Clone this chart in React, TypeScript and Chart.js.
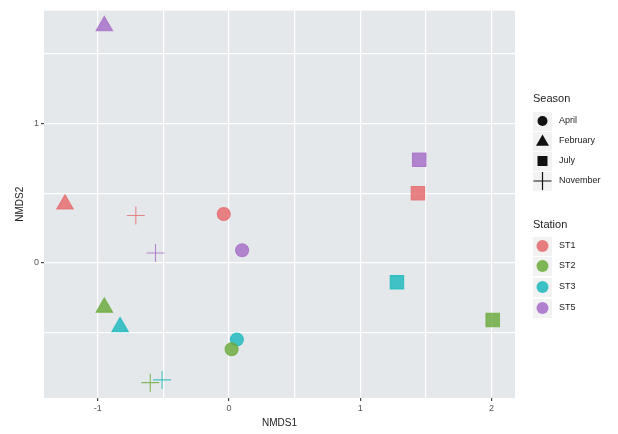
import React, { useEffect, useRef } from "react";
import { Chart, registerables } from "chart.js";

Chart.register(...registerables);

const seasons = ["April", "February", "July", "November"];
const seasonStyles = ["circle", "triangle", "rect", "cross"];
const seasonRadius = [6.5, 9.5, 9.5, 9];
const stations = ["ST1", "ST2", "ST3", "ST5"];
const stationColors = ["#e5696a", "#6aaa3a", "#1bb8bc", "#a56cc8"];

// values ordered as seasons: April, February, July, November
const nmds1ST1 = [-0.04, -1.25, 1.44, -0.71];
const nmds2ST1 = [0.35, 0.42, 0.5, 0.34];
const nmds1ST2 = [0.02, -0.95, 2.01, -0.6];
const nmds2ST2 = [-0.62, -0.32, -0.41, -0.86];
const nmds1ST3 = [0.06, -0.83, 1.28, -0.51];
const nmds2ST3 = [-0.55, -0.46, -0.14, -0.84];
const nmds1ST5 = [0.1, -0.95, 1.45, -0.56];
const nmds2ST5 = [0.09, 1.7, 0.74, 0.07];

const xTicks = [-1, -0.5, 0, 0.5, 1, 1.5, 2];
const yTicks = [-0.5, 0, 0.5, 1, 1.5];
const xTitle = "NMDS1";
const yTitle = "NMDS2";
const seasonTitle = "Season";
const stationTitle = "Station";

const FONT = "'Liberation Sans', Arial, sans-serif";

function alpha(hex: string, a: number) {
  const r = parseInt(hex.slice(1, 3), 16);
  const g = parseInt(hex.slice(3, 5), 16);
  const b = parseInt(hex.slice(5, 7), 16);
  return `rgba(${r},${g},${b},${a})`;
}

function drawShape(ctx: CanvasRenderingContext2D, style: string, x: number, y: number, r: number, color: string) {
  ctx.save();
  ctx.fillStyle = color;
  ctx.strokeStyle = color;
  ctx.lineWidth = 1.2;
  ctx.beginPath();
  if (style === "circle") {
    ctx.arc(x, y, r, 0, Math.PI * 2);
    ctx.fill();
  } else if (style === "triangle") {
    ctx.moveTo(x, y - r);
    ctx.lineTo(x + r * Math.sin((2 * Math.PI) / 3), y - r * Math.cos((2 * Math.PI) / 3));
    ctx.lineTo(x - r * Math.sin((2 * Math.PI) / 3), y - r * Math.cos((2 * Math.PI) / 3));
    ctx.closePath();
    ctx.fill();
  } else if (style === "rect") {
    ctx.rect(x - r, y - r, 2 * r, 2 * r);
    ctx.fill();
  } else {
    ctx.moveTo(x - r, y);
    ctx.lineTo(x + r, y);
    ctx.moveTo(x, y - r);
    ctx.lineTo(x, y + r);
    ctx.stroke();
  }
  ctx.restore();
}

const legendPlugin = {
  id: "ggLegend",
  afterDraw(chart: any) {
    const ctx = chart.ctx as CanvasRenderingContext2D;
    ctx.save();
    ctx.textBaseline = "middle";
    ctx.textAlign = "left";
    ctx.fillStyle = "#222";
    ctx.font = `11px ${FONT}`;
    ctx.fillText(seasonTitle, 533, 99);
    const seasonY = [121, 141, 161, 181];
    const legendShapeR = [5, 7.5, 5, 9];
    seasons.forEach((s, i) => {
      ctx.fillStyle = "#f2f2f2";
      ctx.fillRect(533, seasonY[i] - 9, 19, 19);
      drawShape(ctx, seasonStyles[i], 542.5, seasonY[i] + (i === 1 ? 1 : 0), legendShapeR[i], "#111");
      ctx.fillStyle = "#222";
      ctx.font = `9px ${FONT}`;
      ctx.fillText(s, 559, seasonY[i]);
    });
    ctx.fillStyle = "#222";
    ctx.font = `11px ${FONT}`;
    ctx.fillText(stationTitle, 533, 225);
    const stationY = [246, 266, 287, 308];
    stations.forEach((s, i) => {
      ctx.fillStyle = "#f2f2f2";
      ctx.fillRect(533, stationY[i] - 9, 19, 19);
      drawShape(ctx, "circle", 542.5, stationY[i], 6, alpha(stationColors[i], 0.85));
      ctx.fillStyle = "#222";
      ctx.font = `9px ${FONT}`;
      ctx.fillText(s, 559, stationY[i]);
    });
    ctx.restore();
  },
};

const panelPlugin = {
  id: "panelBg",
  beforeDraw(chart: any) {
    const { ctx, chartArea } = chart;
    ctx.save();
    ctx.fillStyle = "#e5e8eb";
    ctx.fillRect(chartArea.left, chartArea.top, chartArea.right - chartArea.left, chartArea.bottom - chartArea.top);
    ctx.restore();
  },
};

export default function App() {
  const ref = useRef<HTMLCanvasElement | null>(null);
  useEffect(() => {
    document.body.style.margin = "0";
    const xs = [nmds1ST1, nmds1ST2, nmds1ST3, nmds1ST5];
    const ys = [nmds2ST1, nmds2ST2, nmds2ST3, nmds2ST5];
    const datasets = stations.map((st, i) => ({
      label: st,
      data: xs[i].map((x, j) => ({ x, y: ys[i][j] })),
      pointStyle: seasonStyles as any,
      pointRadius: seasonRadius,
      pointHoverRadius: seasonRadius,
      backgroundColor: alpha(stationColors[i], 0.82),
      borderColor: alpha(stationColors[i], 0.8),
      borderWidth: 1.1,
    }));
    const chart = new Chart(ref.current as HTMLCanvasElement, {
      type: "scatter",
      data: { datasets },
      plugins: [panelPlugin, legendPlugin],
      options: {
        animation: false,
        responsive: false,
        layout: { padding: { left: 14, top: 8, right: 103, bottom: 5 } },
        plugins: { legend: { display: false }, tooltip: { enabled: false } },
        scales: {
          x: {
            type: "linear",
            min: -1.41,
            max: 2.18,
            afterBuildTicks: (s: any) => {
              s.ticks = xTicks.map((v) => ({ value: v }));
            },
            afterFit: (s: any) => {
              s.height = 31;
            },
            border: { display: false },
            grid: {
              color: "#ffffff",
              lineWidth: 1.2,
              tickLength: 3,
              tickColor: (c: any) => (Number.isInteger(c.tick?.value) ? "#444" : "rgba(0,0,0,0)"),
            },
            ticks: {
              autoSkip: false,
              maxRotation: 0,
              padding: 2,
              color: "#555",
              font: { family: FONT, size: 9 },
              callback: (v: any) => (Number.isInteger(v) ? String(v) : ""),
            },
            title: {
              display: true,
              text: xTitle,
              color: "#222",
              font: { family: FONT, size: 10 },
              padding: { top: 4, bottom: 0 },
            },
          },
          y: {
            type: "linear",
            min: -0.97,
            max: 1.81,
            afterBuildTicks: (s: any) => {
              s.ticks = yTicks.map((v) => ({ value: v }));
            },
            afterFit: (s: any) => {
              s.width = 30;
            },
            border: { display: false },
            grid: {
              color: "#ffffff",
              lineWidth: 1.2,
              tickLength: 3,
              tickColor: (c: any) => (Number.isInteger(c.tick?.value) ? "#444" : "rgba(0,0,0,0)"),
            },
            ticks: {
              autoSkip: false,
              padding: 2,
              color: "#555",
              font: { family: FONT, size: 9 },
              callback: (v: any) => (Number.isInteger(v) ? String(v) : ""),
            },
            title: {
              display: true,
              text: yTitle,
              color: "#222",
              font: { family: FONT, size: 10 },
              padding: { top: 0, bottom: 4 },
            },
          },
        },
      },
    });
    return () => chart.destroy();
  }, []);
  return (
    <div style={{ width: 618, height: 434, background: "#fff" }}>
      <canvas ref={ref} width={618} height={434} style={{ display: "block" }} />
    </div>
  );
}
